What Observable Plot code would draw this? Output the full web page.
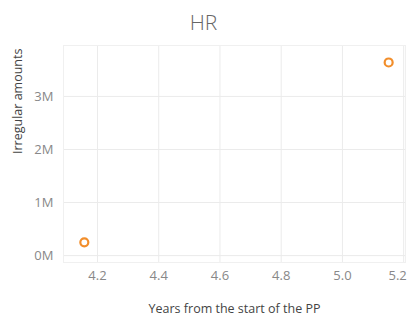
<!DOCTYPE html>
<html>
<head>
<meta charset="utf-8">
<script src="https://cdn.jsdelivr.net/npm/d3@7"></script>
<script src="https://cdn.jsdelivr.net/npm/@observablehq/plot@0.6"></script>
<style>
  body { margin: 0; background: #fff; font-family: "Open Sans", Lato, sans-serif; }
  #title { width: 407px; height: 40px; line-height: 44px; text-align: center; font-size: 21px; color: #666; font-weight: 300; }
</style>
</head>
<body>
<div id="title">HR</div>
<div id="chart"></div>
<script>
const years = [4.157, 5.151];
const amounts = [250000, 3640000];
const xTicks = [4.2, 4.4, 4.6, 4.8, 5.0, 5.2];
const yTicks = [0, 1000000, 2000000, 3000000];
const data = years.map((y, i) => ({year: y, amount: amounts[i]}));
const fmtX = d => d.toFixed(1);

const chart = Plot.plot({
  width: 407,
  height: 287,
  marginLeft: 63,
  marginRight: 2,
  marginTop: 5,
  marginBottom: 65,
  style: {fontFamily: "Open Sans, Lato, sans-serif", fontSize: "12px", color: "#888", background: "#fff"},
  x: {domain: [4.089, 5.206], ticks: xTicks, tickFormat: fmtX},
  y: {domain: [-130000, 3960000], ticks: yTicks, tickFormat: d => (d / 1e6) + "M"},
  marks: [
    Plot.gridX(xTicks, {stroke: "#ebebeb", strokeOpacity: 1}),
    Plot.gridY(yTicks, {stroke: "#ebebeb", strokeOpacity: 1}),
    Plot.frame({stroke: "#f0f0f0", strokeOpacity: 1}),
    Plot.axisX(xTicks.slice(0, -1), {tickSize: 0, tickPadding: 8, fontSize: 13, fill: "#888", label: null, tickFormat: fmtX}),
    Plot.axisX(xTicks.slice(-1), {tickSize: 0, tickPadding: 8, fontSize: 13, fill: "#888", label: null, tickFormat: fmtX, dx: -6}),
    Plot.axisY(yTicks, {tickSize: 0, tickPadding: 10, fontSize: 13, fill: "#888", label: null, tickFormat: d => (d / 1e6) + "M"}),
    Plot.text(["Years from the start of the PP"], {frameAnchor: "bottom", dy: 50, fontSize: 12.5, fill: "#444"}),
    Plot.text(["Irregular amounts"], {frameAnchor: "left", dx: -46, rotate: -90, fontSize: 12.5, fill: "#444"}),
    Plot.dot(data, {x: "year", y: "amount", r: 4, stroke: "#f28e2b", strokeWidth: 2.2, fill: "#fff"})
  ]
});
document.getElementById("chart").appendChild(chart);
</script>
</body>
</html>
